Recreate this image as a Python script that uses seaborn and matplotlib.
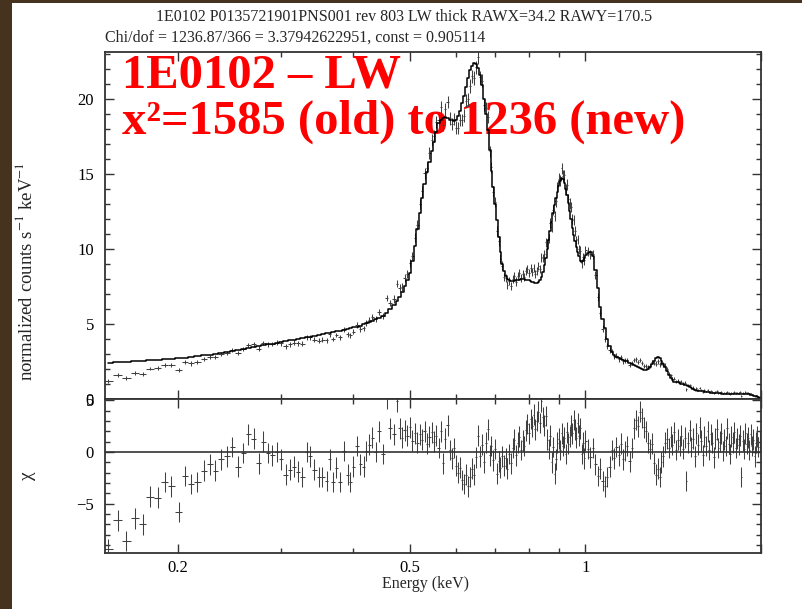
import numpy as np
import matplotlib
matplotlib.use("Agg")
import matplotlib.pyplot as plt
import seaborn as sns
from matplotlib.patches import Rectangle
from matplotlib.ticker import FixedLocator, NullFormatter, MultipleLocator, FixedFormatter

# ---------------- data ----------------
energy = [
    0.152, 0.158, 0.163, 0.169, 0.174, 0.179, 0.185, 0.190, 0.195,
    0.201, 0.206, 0.211, 0.216, 0.222, 0.227, 0.232, 0.237, 0.243, 0.248,
    0.254, 0.259, 0.264, 0.270, 0.275, 0.280, 0.286, 0.290, 0.296,
    0.301, 0.306, 0.311, 0.316, 0.321, 0.327, 0.333, 0.337, 0.343, 0.349,
    0.354, 0.360, 0.364, 0.369, 0.374, 0.380, 0.385, 0.391, 0.395,
    0.400, 0.406, 0.411, 0.417, 0.421, 0.426, 0.431, 0.437, 0.442, 0.450, 0.456, 0.462,
    0.470, 0.475, 0.480, 0.485, 0.490, 0.495, 0.500, 0.505, 0.510, 0.515,
    0.520, 0.525, 0.530, 0.535, 0.540, 0.545, 0.550, 0.555, 0.560, 0.565,
    0.570, 0.575, 0.580, 0.585, 0.590, 0.595, 0.600, 0.605, 0.610, 0.615,
    0.620, 0.625, 0.630, 0.635, 0.640, 0.645, 0.650, 0.655, 0.660, 0.665,
    0.670, 0.675, 0.680, 0.685, 0.690, 0.695, 0.700, 0.705, 0.710, 0.715,
    0.720, 0.725, 0.730, 0.735, 0.740, 0.745, 0.750, 0.755, 0.760, 0.765,
    0.770, 0.775, 0.780, 0.785, 0.790, 0.795, 0.800, 0.805, 0.810, 0.815,
    0.820, 0.825, 0.830, 0.835, 0.840, 0.845, 0.850, 0.855, 0.860, 0.865,
    0.870, 0.875, 0.880, 0.885, 0.890, 0.895, 0.900, 0.905, 0.910, 0.915,
    0.920, 0.925, 0.930, 0.935, 0.940, 0.945, 0.950, 0.955, 0.960, 0.965,
    0.970, 0.975, 0.980, 0.985, 0.990, 0.995, 1.000,
    1.01, 1.02, 1.03, 1.04, 1.05, 1.06, 1.07, 1.08, 1.09, 1.10,
    1.11, 1.12, 1.13, 1.14, 1.15, 1.16, 1.17, 1.18, 1.19, 1.20,
    1.21, 1.22, 1.23, 1.24, 1.25, 1.26, 1.27, 1.28, 1.29, 1.30,
    1.31, 1.32, 1.33, 1.34, 1.35, 1.36, 1.37, 1.38, 1.39, 1.40,
    1.41, 1.42, 1.43, 1.44, 1.45, 1.46, 1.47, 1.48, 1.49, 1.50,
    1.51, 1.52, 1.53, 1.54, 1.55, 1.56, 1.57, 1.58, 1.59, 1.60,
    1.61, 1.62, 1.63, 1.64, 1.65, 1.66, 1.67, 1.68, 1.69, 1.70,
    1.71, 1.72, 1.73, 1.74, 1.75, 1.76, 1.77, 1.78, 1.79, 1.80,
    1.81, 1.82, 1.83, 1.84, 1.85, 1.86, 1.87, 1.88, 1.89, 1.90,
    1.91, 1.92, 1.93, 1.94, 1.95, 1.96, 1.97, 1.98, 1.99,
]

counts = [
    1.22, 1.62, 1.40, 1.71, 1.67, 2.03, 2.06, 2.28, 2.27,
    1.91, 2.44, 2.37, 2.44, 2.66, 2.79, 2.77, 2.98, 3.08, 3.27,
    3.06, 3.31, 3.62, 3.63, 3.36, 3.71, 3.63, 3.64, 3.76,
    3.70, 3.51, 3.64, 3.74, 3.71, 3.69, 4.12, 4.10, 3.95, 3.89,
    3.94, 3.92, 4.30, 3.99, 4.26, 4.10, 4.63, 4.32, 4.25,
    4.49, 4.93, 4.64, 4.70, 5.05, 5.24, 5.47, 5.31, 5.79, 5.51, 6.74, 6.41,
    6.66, 7.68, 7.38, 7.45, 8.05, 8.33, 9.07, 9.52, 10.74, 11.59,
    12.96, 13.82, 15.02, 15.40, 16.37, 17.24, 17.49, 18.44, 18.56, 19.42,
    18.25, 19.28, 19.77, 18.68, 18.30, 18.66, 18.07, 18.03, 18.57, 18.57,
    18.87, 19.85, 19.95, 20.84, 21.48, 21.36, 22.08, 22.77, 21.42, 21.20,
    19.57, 19.37, 18.78, 16.48, 15.42, 13.81, 13.10, 11.21, 10.52, 9.35,
    8.88, 8.14, 8.04, 7.57, 7.85, 7.55, 7.96, 8.19, 7.82, 8.17,
    8.36, 8.03, 8.30, 8.14, 8.52, 8.65, 8.39, 8.71, 8.48, 8.71,
    8.32, 8.53, 8.85, 8.66, 9.42, 9.40, 9.63, 10.42, 10.36, 10.69,
    11.71, 11.47, 12.57, 12.19, 13.16, 14.12, 14.67, 14.57, 15.35, 14.87,
    14.90, 13.93, 14.27, 13.32, 13.01, 12.81, 11.98, 11.91, 11.18, 10.57,
    10.64, 9.96, 9.87, 9.04, 9.46, 9.23, 9.92,
    9.84, 9.65, 9.62, 8.26, 6.80, 5.73, 4.68, 4.01, 3.54, 3.25,
    3.18, 2.85, 2.88, 2.65, 2.77, 2.50, 2.57, 2.59, 2.29, 2.41,
    2.60, 2.63, 2.47, 2.60, 2.40, 2.21, 2.18, 2.12, 2.19, 2.47,
    2.39, 2.35, 2.52, 2.32, 2.40, 2.29, 2.23, 2.02, 1.65, 1.57,
    1.33, 1.34, 1.14, 1.22, 1.12, 1.16, 1.01, 1.08, 0.65, 0.93,
    0.94, 0.74, 0.76, 0.59, 0.72, 0.61, 0.71, 0.60, 0.48, 0.58,
    0.50, 0.58, 0.45, 0.53, 0.47, 0.38, 0.48, 0.52, 0.40, 0.43,
    0.47, 0.37, 0.43, 0.38, 0.48, 0.39, 0.34, 0.43, 0.40, 0.46,
    0.38, 0.43, 0.40, 0.45, 0.22, 0.42, 0.37, 0.45, 0.38, 0.41,
    0.32, 0.38, 0.29, 0.29, 0.18, 0.21, 0.20, 0.12, 0.10,
]

model = [
    2.40, 2.44, 2.47, 2.51, 2.54, 2.57, 2.61, 2.64, 2.68,
    2.72, 2.76, 2.80, 2.85, 2.91, 2.96, 3.02, 3.08, 3.14, 3.20,
    3.26, 3.32, 3.38, 3.45, 3.51, 3.57, 3.64, 3.68, 3.76,
    3.81, 3.86, 3.91, 3.96, 4.01, 4.07, 4.12, 4.16, 4.22, 4.27,
    4.32, 4.37, 4.41, 4.45, 4.50, 4.56, 4.61, 4.67, 4.71,
    4.76, 4.82, 4.87, 4.97, 5.03, 5.11, 5.20, 5.31, 5.41, 5.55, 5.75, 5.97,
    6.25, 6.5, 6.8, 7.1, 7.5, 7.9, 8.4, 9.2, 10.2, 11.3,
    12.4, 13.4, 14.3, 15.1, 15.8, 16.5, 17.1, 17.8, 18.4, 18.6,
    18.7, 18.75, 18.7, 18.6, 18.55, 18.5, 18.6, 18.85, 19.2, 19.7,
    20.2, 20.8, 21.4, 21.9, 22.2, 22.35, 22.3, 22.05, 21.6, 20.9,
    20.0, 19.0, 17.9, 16.6, 15.2, 14.1, 13.0, 11.9, 10.8, 9.8,
    9.0, 8.5, 8.2, 8.0, 7.9, 7.85, 7.85, 7.87, 7.9, 7.93,
    7.95, 7.98, 8.0, 7.98, 7.95, 7.92, 7.9, 7.85, 7.8, 7.77,
    7.75, 7.75, 7.8, 7.9, 8.1, 8.45, 8.9, 9.4, 10.0, 10.6,
    11.2, 11.8, 12.4, 12.9, 13.4, 13.8, 14.2, 14.5, 14.7, 14.65,
    14.4, 14.0, 13.6, 13.05, 12.5, 11.95, 11.4, 10.95, 10.5, 10.15,
    9.8, 9.5, 9.2, 9.1, 9.2, 9.4, 9.6,
    9.75, 9.8, 9.5, 8.6, 7.4, 6.1, 5.3, 4.7, 4.0, 3.5,
    3.15, 2.95, 2.8, 2.7, 2.65, 2.6, 2.55, 2.5, 2.42, 2.35,
    2.28, 2.2, 2.12, 2.05, 1.97, 1.9, 1.92, 2.0, 2.15, 2.35,
    2.55, 2.7, 2.78, 2.7, 2.55, 2.35, 2.1, 1.85, 1.6, 1.4,
    1.25, 1.15, 1.12, 1.1, 1.06, 1.0, 0.98, 0.95, 0.9, 0.85,
    0.77, 0.7, 0.66, 0.62, 0.59, 0.56, 0.54, 0.52, 0.5, 0.48,
    0.465, 0.45, 0.44, 0.43, 0.42, 0.41, 0.4, 0.39, 0.38, 0.37,
    0.365, 0.36, 0.355, 0.35, 0.35, 0.35, 0.35, 0.35, 0.35, 0.35,
    0.355, 0.36, 0.36, 0.36, 0.36, 0.36, 0.355, 0.35, 0.34, 0.33,
    0.31, 0.29, 0.26, 0.23, 0.2, 0.17, 0.14, 0.1, 0.07,
]

count_err = [
    0.125, 0.125, 0.125, 0.125, 0.125, 0.125, 0.125, 0.125, 0.125,
    0.14, 0.14, 0.14, 0.14, 0.14, 0.14, 0.14, 0.14, 0.14, 0.14,
    0.14, 0.14, 0.14, 0.14, 0.14, 0.14, 0.14, 0.14, 0.14,
    0.16, 0.16, 0.16, 0.16, 0.16, 0.16, 0.16, 0.16, 0.16, 0.16,
    0.16, 0.16, 0.16, 0.16, 0.16, 0.16, 0.16, 0.16, 0.16,
    0.19, 0.19, 0.19, 0.19, 0.19, 0.19, 0.19, 0.19, 0.19, 0.19, 0.19, 0.19,
    0.24, 0.24, 0.25, 0.25, 0.26, 0.27, 0.28, 0.29, 0.30, 0.32,
    0.33, 0.35, 0.36, 0.37, 0.38, 0.39, 0.39, 0.40, 0.41, 0.41,
    0.41, 0.41, 0.41, 0.41, 0.41, 0.41, 0.41, 0.41, 0.42, 0.42,
    0.43, 0.43, 0.44, 0.44, 0.45, 0.45, 0.45, 0.45, 0.44, 0.43,
    0.43, 0.41, 0.40, 0.39, 0.37, 0.36, 0.34, 0.33, 0.31, 0.30,
    0.29, 0.28, 0.27, 0.27, 0.27, 0.27, 0.27, 0.27, 0.27, 0.27,
    0.27, 0.27, 0.27, 0.27, 0.27, 0.27, 0.27, 0.27, 0.27, 0.26,
    0.26, 0.26, 0.27, 0.27, 0.27, 0.28, 0.28, 0.29, 0.30, 0.31,
    0.32, 0.33, 0.33, 0.34, 0.35, 0.35, 0.36, 0.36, 0.36, 0.36,
    0.36, 0.36, 0.35, 0.34, 0.34, 0.33, 0.32, 0.31, 0.31, 0.30,
    0.30, 0.29, 0.29, 0.29, 0.29, 0.29, 0.29,
    0.30, 0.30, 0.29, 0.28, 0.26, 0.23, 0.22, 0.21, 0.19, 0.18,
    0.17, 0.16, 0.16, 0.16, 0.15, 0.15, 0.15, 0.15, 0.15, 0.15,
    0.14, 0.14, 0.14, 0.14, 0.13, 0.13, 0.13, 0.13, 0.14, 0.15,
    0.15, 0.16, 0.16, 0.16, 0.15, 0.15, 0.14, 0.13, 0.12, 0.11,
    0.11, 0.10, 0.10, 0.10, 0.10, 0.10, 0.09, 0.09, 0.09, 0.09,
    0.08, 0.08, 0.08, 0.075, 0.075, 0.07, 0.07, 0.07, 0.07, 0.065,
    0.065, 0.065, 0.065, 0.06, 0.06, 0.06, 0.06, 0.06, 0.06, 0.06,
    0.058, 0.058, 0.058, 0.056, 0.056, 0.056, 0.056, 0.056, 0.056, 0.056,
    0.056, 0.057, 0.057, 0.057, 0.057, 0.057, 0.056, 0.056, 0.055, 0.055,
    0.053, 0.051, 0.048, 0.046, 0.043, 0.04, 0.037, 0.032, 0.026,
]

chi = [
    -9.4, -6.6, -8.6, -6.4, -7.0, -4.3, -4.4, -2.9, -3.3,
    -5.8, -2.3, -3.1, -2.9, -1.8, -1.2, -1.8, -0.7, -0.4, 0.5,
    -1.4, -0.1, 1.7, 1.3, -1.1, 1.0, -0.1, -0.3, 0.0,
    -0.7, -2.2, -1.7, -1.4, -1.9, -2.4, 0.0, -0.4, -1.7, -2.4,
    -2.4, -2.8, -0.7, -2.9, -1.5, -2.9, 0.1, -2.2, -2.9,
    -1.4, 0.6, -1.2, -1.4, 0.1, 0.7, 1.4, 0.0, 2.0, -0.2, 5.2, 2.3,
    1.7, 4.9, 2.3, 1.4, 2.1, 1.6, 2.4, 1.1, 1.8, 0.9,
    1.7, 1.2, 2.0, 0.8, 1.5, 1.9, 1.0, 1.6, 0.4, 2.0,
    -1.1, 1.3, 2.6, 0.2, -0.6, 0.4, -1.3, -2.0, -1.5, -2.7,
    -3.1, -2.2, -3.3, -2.4, -1.6, -2.2, -0.5, 1.6, -0.4, 0.7,
    -1.0, 0.9, 2.2, -0.3, 0.6, -0.8, 0.3, -2.1, -0.9, -1.5,
    -0.4, -1.3, -0.6, -1.6, -0.2, -1.1, 0.4, 1.2, -0.3, 0.9,
    1.5, 0.2, 1.1, 0.6, 2.1, 2.7, 1.8, 3.2, 2.5, 3.6,
    2.2, 3.0, 3.9, 2.8, 4.9, 3.4, 2.6, 3.5, 1.2, 0.3,
    1.6, -1.0, 0.5, -2.1, -0.7, 0.9, 1.3, 0.2, 1.8, 0.6,
    1.4, -0.2, 1.9, 0.8, 1.5, 2.6, 1.8, 3.1, 2.2, 1.4,
    2.8, 1.6, 2.3, -0.2, 0.9, -0.6, 1.1,
    0.3, -0.5, 0.4, -1.2, -2.3, -1.6, -2.8, -3.3, -2.4, -1.4,
    0.2, -0.6, 0.5, -0.3, 0.8, -0.7, 0.1, 0.6, -0.9, 0.4,
    2.3, 3.1, 2.5, 3.9, 3.3, 2.4, 2.0, 0.9, 0.3, 0.8,
    -1.1, -2.2, -1.6, -2.4, -1.0, -0.4, 0.9, 1.3, 0.4, 1.5,
    0.7, 1.9, 0.2, 1.2, 0.6, 1.6, 0.3, 1.4, -2.8, 0.9,
    2.1, 0.5, 1.3, -0.4, 1.8, 0.7, 2.4, 1.1, -0.3, 1.5,
    0.6, 2.0, 0.2, 1.7, 0.9, -0.5, 1.3, 2.2, 0.4, 1.0,
    1.8, 0.1, 1.2, 0.6, 2.3, 0.8, -0.2, 1.5, 0.9, 1.9,
    0.4, 1.3, 0.7, 1.6, -2.4, 1.1, 0.3, 1.8, 0.8, 1.4,
    0.2, 1.7, 0.6, 1.2, -0.4, 0.9, 1.5, 0.5, 1.0,
]
chi_err = 1.0

x_major = [0.2, 0.5, 1, 2]
x_major_labels = ["0.2", "0.5", "1", ""]
x_minor = [0.3, 0.4, 0.6, 0.7, 0.8, 0.9]

title_1 = "1E0102 P0135721901PNS001 rev 803 LW thick RAWX=34.2 RAWY=170.5"
title_2 = "Chi/dof = 1236.87/366 = 3.37942622951, const = 0.905114"
note_1 = "1E0102 \u2013 LW"
note_2 = "x\u00b2=1585 (old) to 1236 (new)"

# ---------------- style ----------------
sns.set_style("ticks")
plt.rcParams["font.family"] = ["Liberation Serif", "DejaVu Serif"]
plt.rcParams["mathtext.fontset"] = "stix"

W, H = 803, 609
fig = plt.figure(figsize=(W / 100, H / 100), dpi=100)
fig.patch.set_facecolor("white")

# wood-coloured strips of the slide background
wood = "#45321f"
fig.patches.append(Rectangle((0, 0), 12 / W, 1, transform=fig.transFigure,
                             facecolor=wood, edgecolor="none", zorder=0))
fig.patches.append(Rectangle((0, 1 - 3 / H), 1, 3 / H, transform=fig.transFigure,
                             facecolor=wood, edgecolor="none", zorder=0))

left, right = 105 / W, 761 / W
ax1 = fig.add_axes([left, 1 - 399 / H, right - left, (399 - 52) / H])
ax2 = fig.add_axes([left, 1 - 553 / H, right - left, (553 - 399) / H], sharex=ax1)

e = np.asarray(energy)
mids = np.sqrt(e[1:] * e[:-1])
lo = np.concatenate([[e[0] ** 2 / mids[0]], mids])
hi = np.concatenate([mids, [e[-1] ** 2 / mids[-1]]])
xerr = [e - lo, hi - e]

data_col = "#404040"

# top panel: data + model
ax1.errorbar(energy, counts, xerr=xerr, yerr=count_err, fmt="none",
             ecolor=data_col, elinewidth=0.75, zorder=2)
sns.lineplot(x=energy, y=model, ax=ax1, color="black", lw=1.1,
             drawstyle="steps-mid", estimator=None, legend=False, zorder=3)

# bottom panel: residuals
ax2.errorbar(energy, chi, xerr=xerr, yerr=chi_err, fmt="none",
             ecolor=data_col, elinewidth=0.75, zorder=2)
ax2.axhline(0, color="#333333", lw=1.2, zorder=3)

for ax in (ax1, ax2):
    ax.set_xscale("log")
    ax.set_xlim(0.15, 2.0)
    ax.xaxis.set_major_locator(FixedLocator(x_major))
    ax.xaxis.set_major_formatter(FixedFormatter(x_major_labels))
    ax.xaxis.set_minor_locator(FixedLocator(x_minor))
    ax.xaxis.set_minor_formatter(NullFormatter())
    ax.yaxis.set_major_locator(MultipleLocator(5))
    ax.yaxis.set_minor_locator(MultipleLocator(1))
    ax.tick_params(which="both", direction="in", top=True, right=True,
                   color="#333333", width=1.0, labelsize=12, labelcolor="black")
    ax.tick_params(which="major", length=6.5)
    ax.tick_params(which="minor", length=3.5)
    ax.tick_params(axis="y", pad=8)
    ax.tick_params(axis="x", pad=5)
    for s in ax.spines.values():
        s.set_color("#333333")
        s.set_linewidth(1.3)
    ax.set_xlabel("")
    ax.set_ylabel("")

ax1.set_ylim(0, 23.1)
ax2.set_ylim(-9.76, 5.13)
ax1.tick_params(labelbottom=False)

# axis labels
fig.text(26 / W, 1 - 271 / H, r"normalized counts s$^{-1}$ keV$^{-1}$",
         rotation=90, ha="center", va="center", fontsize=13.5)
fig.text(28 / W, 1 - 476 / H, "\u03c7", rotation=90, ha="center",
         va="center", fontsize=14)
fig.text(426 / W, 1 - 584 / H, "Energy (keV)", ha="center", va="center",
         fontsize=11.5)

# titles
fig.text(404 / W, 1 - 17 / H, title_1, ha="center", va="center", fontsize=11.5)
fig.text(105 / W, 1 - 38 / H, title_2, ha="left", va="center", fontsize=11.5)

# red annotation (drawn beneath the data)
ax1.text(122 / W, 1 - 87 / H, note_1, transform=fig.transFigure, color="#ff0000",
         fontsize=35, fontweight="bold", ha="left", va="baseline", zorder=1)
ax1.text(122 / W, 1 - 134 / H, note_2, transform=fig.transFigure, color="#ff0000",
         fontsize=35, fontweight="bold", ha="left", va="baseline", zorder=1)

fig.savefig("out.png", dpi=100)
